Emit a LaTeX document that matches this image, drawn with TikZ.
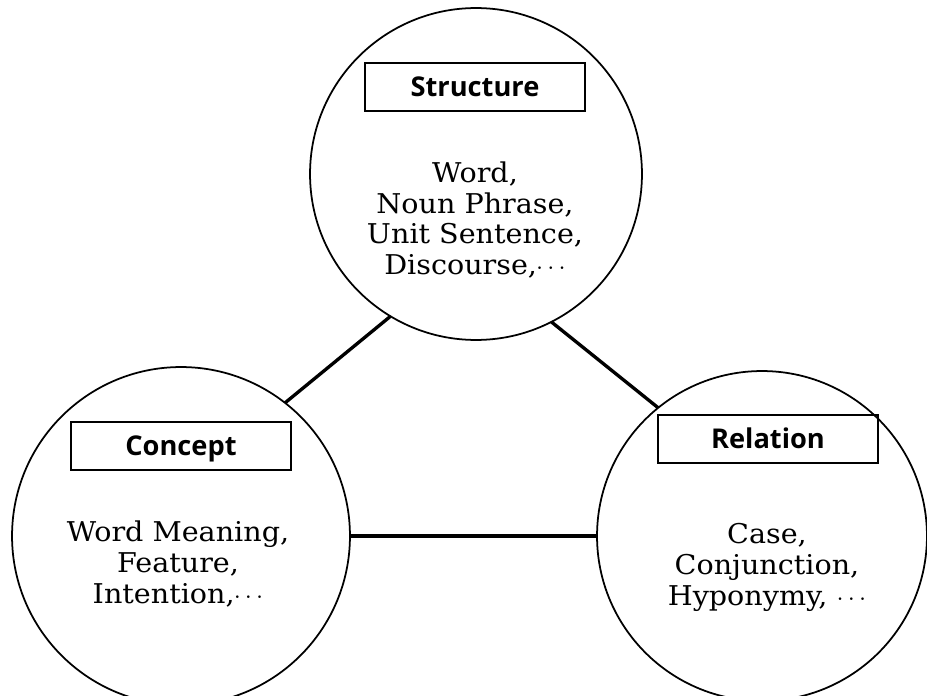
\documentclass[tikz,border=0pt]{standalone}
\usepackage{fontspec}
\newfontfamily\bodyserif{DejaVu Serif}[FakeStretch=1.05]
\newfontfamily\labelsans{Open Sans}
\newcommand\moredots{\kern-0.5pt$\cdots$}
\begin{document}
\begin{tikzpicture}[x=0.02cm,y=-0.02cm,
  ring/.style={circle, draw, line width=1pt, inner sep=0pt, outer sep=0pt},
  tag/.style={draw, line width=0.9pt, inner sep=0pt, outer sep=0pt,
    minimum width=4.4cm, minimum height=0.95cm,
    font=\labelsans\bfseries\fontsize{15.5}{18}\selectfont,
    text height=11pt, text depth=0pt},
  items/.style={align=center, inner sep=0pt,
    font=\bodyserif\fontsize{15.5}{17.6}\selectfont},
  link/.style={line width=1.9pt}]
\useasboundingbox (0,0) rectangle (927,696);
\clip (0,0) rectangle (927,696);

% the three circles
\node[ring, minimum size=6.64cm] (T) at (476,174) {};
\node[ring, minimum size=6.76cm] (L) at (181,536) {};
\node[ring, minimum size=6.6cm]  (R) at (762,536) {};

% connectors between the circles
\draw[link] (L.52.9) -- (T.239.7);
\draw[link] (T.297) -- (R.129.3);
\draw[link] (L.0) -- (R.180);

% headings
\node[tag] (Ttag) at (475,87)  {Structure};
\node[tag] (Ltag) at (181,446) {Concept};
\node[tag] (Rtag) at (768,439) {Relation};

% contents
\node[items] (Ttxt) at (475,220) {Word,\\Noun Phrase,\\Unit Sentence,\\Discourse,\moredots};
\node[items] (Ltxt) at (178,564) {Word Meaning,\\Feature,\\Intention,\moredots};
\node[items] (Rtxt) at (767,567) {Case,\\Conjunction,\\Hyponymy, $\cdots$};
\end{tikzpicture}
\end{document}
